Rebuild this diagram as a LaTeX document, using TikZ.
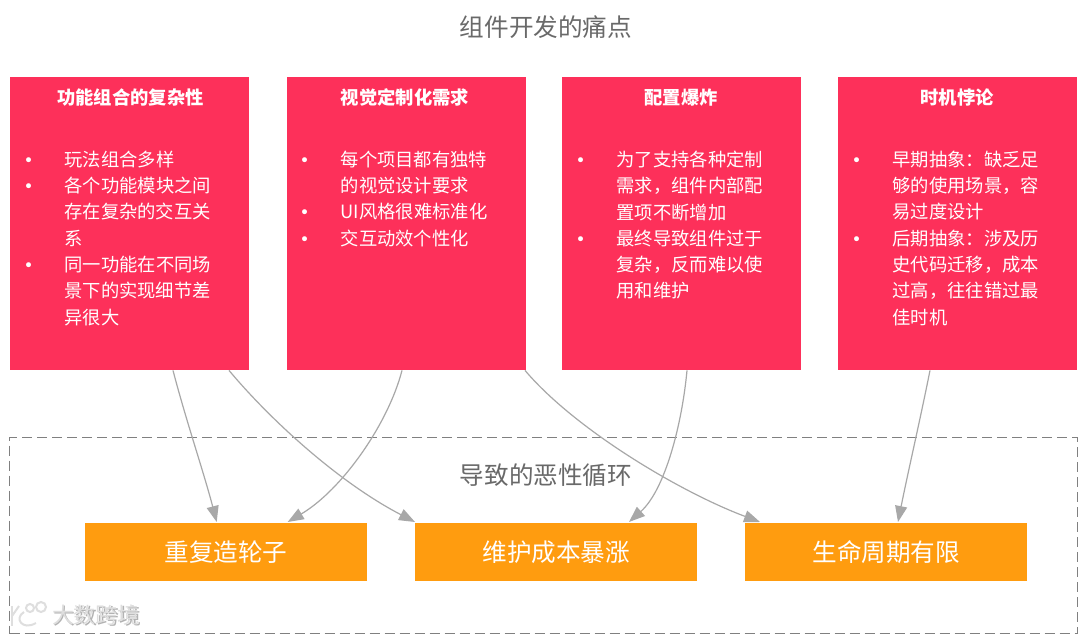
\documentclass[tikz,border=0pt]{standalone}
\usepackage{fontspec}
\setmainfont{Noto Sans CJK SC}
\newfontfamily\dotfont{DejaVu Sans}
\usetikzlibrary{arrows.meta}
\definecolor{pinkbox}{RGB}{253,48,90}
\definecolor{orangebox}{RGB}{255,156,15}
\definecolor{headgray}{RGB}{105,105,105}
\definecolor{linkgray}{RGB}{168,168,168}
\definecolor{framegray}{RGB}{128,128,128}
\definecolor{markgray}{RGB}{222,222,222}
\newcommand{\pbul}{\makebox[36pt][l]{\hspace*{-5pt}\raisebox{0pt}{\dotfont\fontsize{17}{17}\selectfont •}}}
\newcommand{\pcon}{\hspace*{36pt}}
\tikzset{
  x=1pt,y=-1pt,
  pinkcard/.style={draw=none,fill=pinkbox,minimum width=239pt,minimum height=293pt,inner sep=0pt,anchor=north west},
  orangecard/.style={draw=none,fill=orangebox,minimum width=282pt,minimum height=58pt,inner sep=0pt,anchor=north west,text=white,font=\fontsize{24.6}{28}\selectfont},
  cardtitle/.style={text=white,inner sep=0pt,anchor=center,font=\fontsize{18.3}{22}\bfseries\selectfont},
  cardbody/.style={text=white,inner sep=0pt,anchor=north west,align=left,font=\fontsize{18.3}{26.3}\selectfont},
  heading/.style={text=headgray,inner sep=0pt,font=\fontsize{24.6}{28}\selectfont},
  link/.style={draw=linkgray,line width=1.2pt,-{Triangle[length=16pt,width=12pt]}},
  frame/.style={draw=framegray,line width=1pt,dash pattern=on 10pt off 5pt},
}
\begin{document}
\begin{tikzpicture}
\useasboundingbox (0,0) rectangle (1080,635);
\fill[white] (0,0) rectangle (1080,635);
\node[heading] (title) at (546,27) {组件开发的痛点};
\node[pinkcard] (p1) at (10,77) {};
\node[pinkcard] (p2) at (286.5,77) {};
\node[pinkcard] (p3) at (562,77) {};
\node[pinkcard] (p4) at (838,77) {};
\node[cardtitle] (t1) at (130.5,97.7) {功能组合的复杂性};
\node[cardtitle] (t2) at (405,97.7) {视觉定制化需求};
\node[cardtitle] (t3) at (681,97.7) {配置爆炸};
\node[cardtitle] (t4) at (957,97.7) {时机悖论};
\node[cardbody] (b1) at ([xshift=18.3pt,yshift=-73.7pt]p1.north west) {\pbul 玩法组合多样\\\pbul 各个功能模块之间\\\pcon 存在复杂的交互关\\\pcon 系\\\pbul 同一功能在不同场\\\pcon 景下的实现细节差\\\pcon 异很大};
\node[cardbody] (b2) at ([xshift=18pt,yshift=-73.7pt]p2.north west) {\pbul 每个项目都有独特\\\pcon 的视觉设计要求\\\pbul UI风格很难标准化\\\pbul 交互动效个性化};
\node[cardbody] (b3) at ([xshift=18.3pt,yshift=-73.7pt]p3.north west) {\pbul 为了支持各种定制\\\pcon 需求，组件内部配\\\pcon 置项不断增加\\\pbul 最终导致组件过于\\\pcon 复杂，反而难以使\\\pcon 用和维护};
\node[cardbody] (b4) at ([xshift=18.3pt,yshift=-73.7pt]p4.north west) {\pbul 早期抽象：缺乏足\\\pcon 够的使用场景，容\\\pcon 易过度设计\\\pbul 后期抽象：涉及历\\\pcon 史代码迁移，成本\\\pcon 过高，往往错过最\\\pcon 佳时机};
\node[frame,minimum width=1068pt,minimum height=196pt,inner sep=0pt,anchor=north west] (loop) at (9,437) {};
\node[heading] (looptitle) at (546,475) {导致的恶性循环};
\node[orangecard] (o1) at (84.7,523) {重复造轮子};
\node[orangecard] (o2) at (415,523) {维护成本暴涨};
\node[orangecard] (o3) at (745,523) {生命周期有限};
\draw[link] ([xshift=163pt]p1.south west) .. controls +(13,50) and +(-13,-50) .. ([xshift=132pt,yshift=1pt]o1.north west);
\draw[link] ([xshift=219pt]p1.south west) .. controls +(41,49) and +(-77,-40) .. ([xshift=0pt,yshift=1pt]o2.north west);
\draw[link] ([xshift=115.5pt]p2.south west) .. controls +(-14,54) and +(54,-32) .. ([xshift=203pt,yshift=1pt]o1.north west);
\draw[link] ([xshift=238.5pt]p2.south west) .. controls +(50,59) and +(-80,-30) .. ([xshift=15pt,yshift=1pt]o3.north west);
\draw[link] ([xshift=125pt]p3.south west) .. controls +(-5,54) and +(36,-32) .. ([xshift=214pt,yshift=1pt]o2.north west);
\draw[link] ([xshift=92pt]p4.south west) .. controls +(-10,50) and +(10,-50) .. ([xshift=153pt,yshift=1pt]o3.north west);
\begin{scope}[draw=markgray,line width=2pt]
\draw (12,606) -- (12,626);
\draw (12,616) -- (19,606);
\draw (24,612) .. controls (14,618) and (22,631) .. (36,623);
\draw (30,608) circle (4pt);
\draw (41,607) circle (5pt);
\end{scope}
\node[text=gray!60,inner sep=0pt,font=\fontsize{22}{24}\selectfont] (markshadow) at (97,616) {大数跨境};
\node[text=markgray,inner sep=0pt,font=\fontsize{22}{24}\selectfont] (mark) at (96,615) {大数跨境};
\end{tikzpicture}
\end{document}
